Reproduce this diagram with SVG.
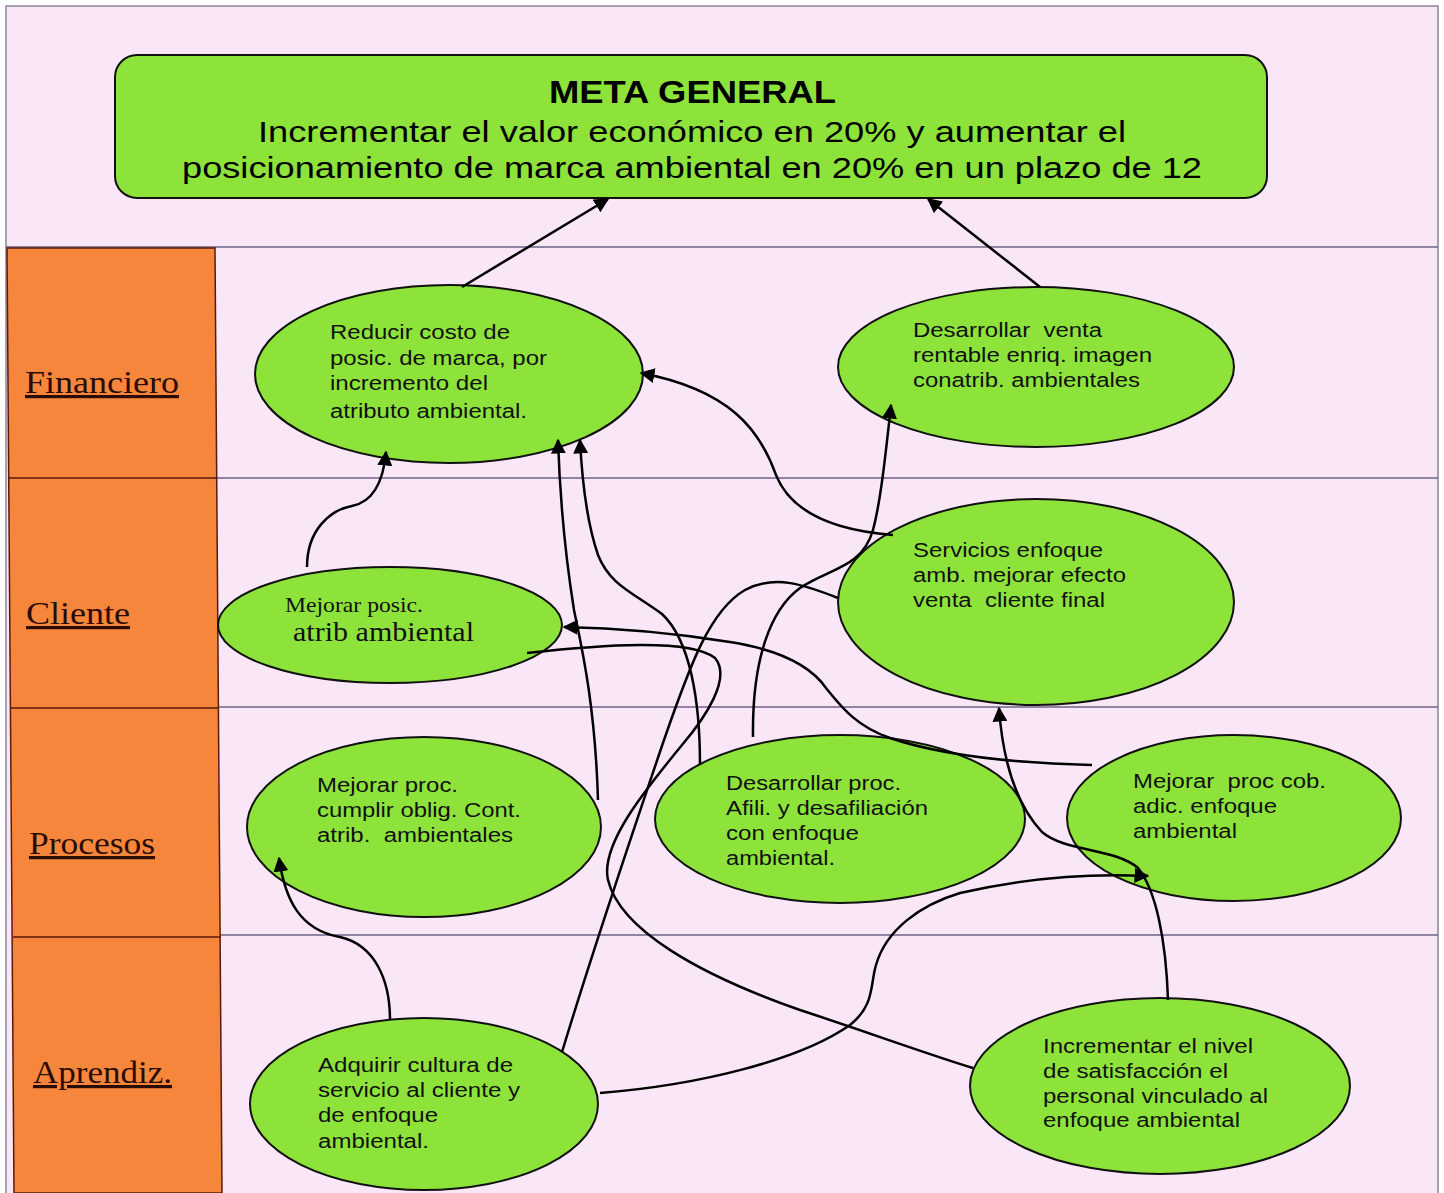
<svg xmlns="http://www.w3.org/2000/svg" width="1444" height="1193" viewBox="0 0 1444 1193">
  <style>
    .band { fill: #f9e6f7; }
    .rule { stroke: #6b6486; stroke-width: 1.5; fill: none; }
    .lane { fill: #f6863c; stroke: #5a1a0a; stroke-width: 1.5; }
    .lane-rule { stroke: #5a1a0a; stroke-width: 1.5; }
    .lane-label { font-family: "Liberation Serif", "Times New Roman", serif; font-size: 32px; fill: #2a0c04; text-decoration: underline; }
    .node { fill: #8ee33b; stroke: #111; stroke-width: 2; }
    .txt { font-family: "Liberation Sans", Arial, sans-serif; font-size: 20px; fill: #111; }
    .txt-serif { font-family: "Liberation Serif", "Times New Roman", serif; fill: #111; }
    .goal-title { font-family: "Liberation Sans", Arial, sans-serif; font-size: 31px; font-weight: bold; fill: #000; }
    .goal-txt { font-family: "Liberation Sans", Arial, sans-serif; font-size: 30px; fill: #000; }
    .link { fill: none; stroke: #000; stroke-width: 2.5; }
    .arrow { marker-end: url(#head); }
  </style>
  <defs>
    <marker id="head" viewBox="0 0 10 10" refX="9" refY="5" markerWidth="15" markerHeight="15" markerUnits="userSpaceOnUse" orient="auto">
      <path d="M0,0 L10,5 L0,10 z" fill="#000"/>
    </marker>
  </defs>

  <!-- page background and frame -->
  <rect x="0" y="0" width="1444" height="1193" fill="#ffffff"/>
  <rect x="6" y="6" width="1432" height="1190" class="band" stroke="#8a8696" stroke-width="1.5"/>

  <!-- perspective rows -->
  <g id="lanes">
    <line class="rule" x1="6" y1="247" x2="1438" y2="247"/>
    <line class="rule" x1="216" y1="478" x2="1438" y2="478"/>
    <line class="rule" x1="218" y1="707" x2="1438" y2="707"/>
    <line class="rule" x1="220" y1="935" x2="1438" y2="935"/>
    <polygon class="lane" points="7,248 215,248 222,1193 14,1193"/>
    <line class="lane-rule" x1="9" y1="478" x2="217" y2="478"/>
    <line class="lane-rule" x1="11" y1="708" x2="219" y2="708"/>
    <line class="lane-rule" x1="13" y1="937" x2="221" y2="937"/>
    <text class="lane-label" x="25" y="393" textLength="154" lengthAdjust="spacingAndGlyphs">Financiero</text>
    <text class="lane-label" x="26" y="624" textLength="104" lengthAdjust="spacingAndGlyphs">Cliente</text>
    <text class="lane-label" x="29" y="854" textLength="126" lengthAdjust="spacingAndGlyphs">Procesos</text>
    <text class="lane-label" x="33" y="1083" textLength="139" lengthAdjust="spacingAndGlyphs">Aprendiz.</text>
  </g>

  <!-- general goal -->
  <g id="meta-general">
    <rect class="node" x="115" y="55" width="1152" height="143" rx="22"/>
    <text class="goal-title" x="549" y="103" textLength="287" lengthAdjust="spacingAndGlyphs">META GENERAL</text>
    <text class="goal-txt" x="258" y="142" textLength="868" lengthAdjust="spacingAndGlyphs">Incrementar el valor económico en 20% y aumentar el</text>
    <text class="goal-txt" x="182" y="178" textLength="1020" lengthAdjust="spacingAndGlyphs">posicionamiento de marca ambiental en 20% en un plazo de 12</text>
  </g>

  <!-- Financiero -->
  <g id="reducir-costo">
    <ellipse class="node" cx="449" cy="374" rx="194" ry="89"/>
    <text class="txt" x="330" y="339" textLength="180" lengthAdjust="spacingAndGlyphs">Reducir costo de</text>
    <text class="txt" x="330" y="365" textLength="217" lengthAdjust="spacingAndGlyphs">posic. de marca, por</text>
    <text class="txt" x="330" y="390" textLength="158" lengthAdjust="spacingAndGlyphs">incremento del</text>
    <text class="txt" x="330" y="418" textLength="197" lengthAdjust="spacingAndGlyphs">atributo ambiental.</text>
  </g>
  <g id="venta-rentable">
    <ellipse class="node" cx="1036" cy="367" rx="198" ry="80"/>
    <text class="txt" x="913" y="337" textLength="189" lengthAdjust="spacingAndGlyphs" xml:space="preserve">Desarrollar  venta</text>
    <text class="txt" x="913" y="362" textLength="239" lengthAdjust="spacingAndGlyphs">rentable enriq. imagen</text>
    <text class="txt" x="913" y="387" textLength="227" lengthAdjust="spacingAndGlyphs">conatrib. ambientales</text>
  </g>

  <!-- Cliente -->
  <g id="mejorar-posic">
    <ellipse class="node" cx="390" cy="625" rx="172" ry="58"/>
    <text class="txt-serif" x="285" y="612" font-size="22" textLength="138" lengthAdjust="spacingAndGlyphs">Mejorar posic.</text>
    <text class="txt-serif" x="293" y="641" font-size="27" textLength="181" lengthAdjust="spacingAndGlyphs">atrib ambiental</text>
  </g>
  <g id="servicios-enfoque">
    <ellipse class="node" cx="1036" cy="602" rx="198" ry="103"/>
    <text class="txt" x="913" y="557" textLength="190" lengthAdjust="spacingAndGlyphs">Servicios enfoque</text>
    <text class="txt" x="913" y="582" textLength="213" lengthAdjust="spacingAndGlyphs">amb. mejorar efecto</text>
    <text class="txt" x="913" y="607" textLength="192" lengthAdjust="spacingAndGlyphs" xml:space="preserve">venta  cliente final</text>
  </g>

  <!-- Procesos -->
  <g id="mejorar-proc">
    <ellipse class="node" cx="424" cy="827" rx="177" ry="90"/>
    <text class="txt" x="317" y="792" textLength="141" lengthAdjust="spacingAndGlyphs">Mejorar proc.</text>
    <text class="txt" x="317" y="817" textLength="204" lengthAdjust="spacingAndGlyphs">cumplir oblig. Cont.</text>
    <text class="txt" x="317" y="842" textLength="196" lengthAdjust="spacingAndGlyphs" xml:space="preserve">atrib.  ambientales</text>
  </g>
  <g id="afiliacion">
    <ellipse class="node" cx="840" cy="819" rx="185" ry="84"/>
    <text class="txt" x="726" y="790" font-size="21" textLength="175" lengthAdjust="spacingAndGlyphs">Desarrollar proc.</text>
    <text class="txt" x="726" y="815" font-size="21" textLength="202" lengthAdjust="spacingAndGlyphs">Afili. y desafiliación</text>
    <text class="txt" x="726" y="840" font-size="21" textLength="133" lengthAdjust="spacingAndGlyphs">con enfoque</text>
    <text class="txt" x="726" y="865" font-size="21" textLength="109" lengthAdjust="spacingAndGlyphs">ambiental.</text>
  </g>
  <g id="cobranza">
    <ellipse class="node" cx="1234" cy="818" rx="167" ry="83"/>
    <text class="txt" x="1133" y="788" font-size="21" textLength="193" lengthAdjust="spacingAndGlyphs" xml:space="preserve">Mejorar  proc cob.</text>
    <text class="txt" x="1133" y="813" font-size="21" textLength="144" lengthAdjust="spacingAndGlyphs">adic. enfoque</text>
    <text class="txt" x="1133" y="838" font-size="21" textLength="104" lengthAdjust="spacingAndGlyphs">ambiental</text>
  </g>

  <!-- Aprendizaje -->
  <g id="cultura-servicio">
    <ellipse class="node" cx="424" cy="1104" rx="174" ry="86"/>
    <text class="txt" x="318" y="1072" textLength="195" lengthAdjust="spacingAndGlyphs">Adquirir cultura de</text>
    <text class="txt" x="318" y="1097" textLength="202" lengthAdjust="spacingAndGlyphs">servicio al cliente y</text>
    <text class="txt" x="318" y="1122" textLength="120" lengthAdjust="spacingAndGlyphs">de enfoque</text>
    <text class="txt" x="318" y="1148" textLength="111" lengthAdjust="spacingAndGlyphs">ambiental.</text>
  </g>
  <g id="satisfaccion-personal">
    <ellipse class="node" cx="1160" cy="1086" rx="190" ry="88"/>
    <text class="txt" x="1043" y="1053" font-size="21" textLength="210" lengthAdjust="spacingAndGlyphs">Incrementar el nivel</text>
    <text class="txt" x="1043" y="1078" font-size="21" textLength="185" lengthAdjust="spacingAndGlyphs">de satisfacción el</text>
    <text class="txt" x="1043" y="1103" font-size="21" textLength="225" lengthAdjust="spacingAndGlyphs">personal vinculado al</text>
    <text class="txt" x="1043" y="1127" font-size="21" textLength="197" lengthAdjust="spacingAndGlyphs">enfoque ambiental</text>
  </g>

  <!-- cause-effect links -->
  <g id="connectors">
    <path class="link arrow" d="M462,287 L608,199"/>
    <path class="link arrow" d="M1040,287 L928,199"/>
    <path class="link arrow" d="M307,567 C307,530 330,510 352,506 C372,502 383,485 386,452"/>
    <path class="link arrow" d="M893,535 C830,530 790,510 776,475 C760,430 730,390 641,373"/>
    <path class="link arrow" d="M753,737 C752,660 770,610 800,588 C830,568 862,568 873,530 C881,500 886,450 891,405"/>
    <path class="link arrow" d="M1092,765 C1010,763 940,755 890,738 C855,726 840,705 826,688 C810,665 780,650 730,642 C680,634 620,628 564,627"/>
    <path class="link arrow" d="M598,800 C595,700 580,640 574,610 C566,560 560,500 558,440"/>
    <path class="link arrow" d="M700,765 C700,700 690,640 662,614 C632,592 610,585 598,555 C586,520 582,480 580,440"/>
    <path class="link arrow" d="M1168,1000 C1166,940 1156,890 1138,868 C1115,848 1065,852 1042,832 C1012,800 1002,750 999,708"/>
    <path class="link arrow" d="M600,1093 C700,1085 800,1060 850,1025 C875,1005 870,985 876,965 C886,930 920,905 960,893 C1040,875 1100,874 1148,876"/>
    <path class="link arrow" d="M390,1020 C390,980 375,945 340,937 C300,930 285,900 279,858"/>
    <path class="link" d="M562,1052 C590,960 630,840 664,740 C690,665 710,610 745,590 C775,574 805,585 838,598"/>
    <path class="link" d="M527,653 C600,645 690,638 715,658 C732,678 705,718 682,745 C645,790 600,845 608,880 C620,930 700,975 800,1010 C870,1033 930,1055 973,1068"/>
  </g>
</svg>
